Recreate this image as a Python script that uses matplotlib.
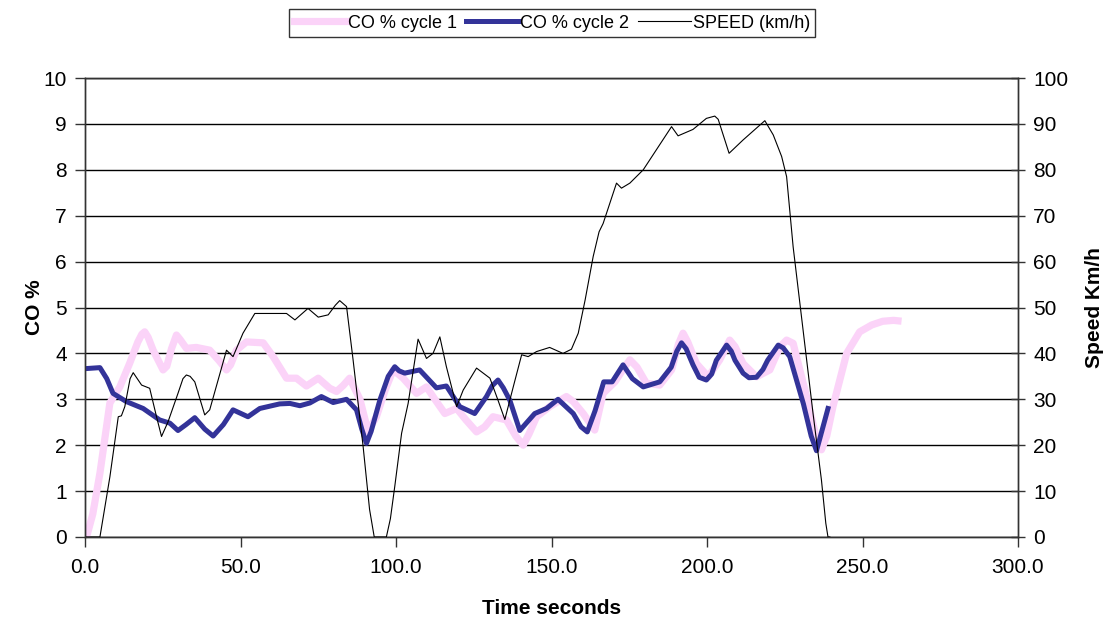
import matplotlib
matplotlib.use("Agg")
import matplotlib.pyplot as plt
from matplotlib.ticker import FormatStrFormatter

plt.rcParams['font.family'] = ['Liberation Sans', 'DejaVu Sans']

# CO % cycle 1 (time s, CO %)
t1 = [0.5, 2.5, 4.8, 8.0, 11.2, 14.4, 17.0, 18.3, 19.2, 20.3, 21.9, 25.1, 26.3, 27.8, 29.4,
      30.6, 32.6, 35.8, 40.1, 43.0, 45.5, 46.8, 48.7, 51.9, 57.3, 60.5, 64.8, 68.0, 71.2,
      75.0, 78.7, 80.9, 83.0, 85.1, 88.4, 91.0, 93.7, 96.5, 99.1, 102.3, 106.6, 109.8, 112.5,
      115.7, 119.5, 122.5, 125.9, 128.5, 131.2, 135.5, 138.5, 140.9, 142.8, 145.2, 149.4,
      154.8, 157.0, 160.2, 163.9, 166.6, 170.4, 173.0, 175.2, 177.5, 180.5, 184.8, 188.6,
      190.8, 192.3, 193.8, 196.6, 200.4, 204.1, 207.3, 209.0, 211.6, 215.9, 220.2, 223.5,
      225.6, 227.7, 232.0, 235.0, 236.8, 238.5, 240.5, 244.9, 249.1, 253.0, 256.5, 260.0,
      261.4]
co1 = [0.0, 0.5, 1.39, 2.92, 3.27, 3.79, 4.25, 4.42, 4.47, 4.35, 4.07, 3.64, 3.72, 4.1, 4.40,
       4.30, 4.11, 4.13, 4.07, 3.85, 3.64, 3.75, 4.07, 4.25, 4.23, 3.93, 3.46, 3.46, 3.29,
       3.46, 3.24, 3.17, 3.30, 3.46, 3.0, 2.3, 2.62, 3.2, 3.64, 3.46, 3.13, 3.27, 3.0,
       2.69, 2.80, 2.55, 2.29, 2.40, 2.62, 2.55, 2.2, 2.00, 2.25, 2.62, 2.84,
       3.06, 2.95, 2.69, 2.33, 3.13, 3.38, 3.65, 3.86, 3.70, 3.35, 3.31, 3.64,
       4.20, 4.44, 4.25, 3.78, 3.49, 3.86, 4.29, 4.15, 3.78, 3.49, 3.64, 4.15,
       4.29, 4.22, 3.06, 2.20, 1.90, 2.20, 2.84, 4.0, 4.47, 4.62, 4.70, 4.72,
       4.71]

# CO % cycle 2
t2 = [0.5, 4.8, 7.0, 9.0, 13.3, 18.7, 24.0, 27.3, 29.9, 32.5, 35.3, 38.5, 41.2, 44.5, 47.6,
      52.4, 56.2, 62.6, 65.9, 69.1, 72.3, 76.0, 79.8, 84.1, 87.3, 89.0, 90.5, 92.0, 94.8,
      97.5, 99.6, 101.0, 102.8, 107.6, 113.0, 116.2, 120.5, 125.3, 129.1, 131.0, 132.8,
      134.5, 136.6, 139.8, 144.6, 148.4, 152.1, 157.0, 159.5, 161.5, 164.0, 166.8, 169.5,
      173.0, 176.0, 179.5, 184.8, 188.5, 190.3, 191.8, 193.3, 195.5, 197.5, 199.8, 201.5,
      203.0, 206.3, 207.8, 209.0, 211.6, 213.5, 215.9, 218.0, 219.5, 222.9, 224.5, 226.6,
      231.0, 233.5, 235.2, 236.5, 238.9]
co2 = [3.67, 3.69, 3.45, 3.13, 2.95, 2.80, 2.55, 2.48, 2.32, 2.45, 2.60, 2.35, 2.20, 2.45, 2.77,
       2.62, 2.80, 2.90, 2.91, 2.86, 2.92, 3.06, 2.93, 3.00, 2.77, 2.35, 2.04, 2.30, 2.98,
       3.50, 3.71, 3.62, 3.57, 3.64, 3.25, 3.29, 2.84, 2.69, 3.06, 3.30, 3.42,
       3.25, 2.98, 2.32, 2.69, 2.80, 3.00, 2.69, 2.40, 2.29, 2.75, 3.38, 3.38,
       3.75, 3.45, 3.27, 3.38, 3.70, 4.05, 4.23, 4.10, 3.75, 3.48, 3.42, 3.55,
       3.85, 4.18, 4.05, 3.85, 3.57, 3.47, 3.48, 3.65, 3.85, 4.18, 4.12, 3.93,
       2.90, 2.20, 1.88, 2.20, 2.80]

# Speed (km/h)
ts = [0.5, 4.8, 8.0, 10.7, 11.7, 12.8, 14.5, 15.5, 16.8, 18.2, 20.8, 23.0, 24.6, 26.7, 29.9,
      31.5, 32.6, 33.8, 35.3, 38.5, 40.1, 45.5, 47.6, 50.8, 54.6, 64.8, 67.5, 71.7, 75.0,
      78.2, 80.5, 81.9, 84.1, 86.2, 89.4, 91.5, 93.0, 96.9, 98.2, 99.6, 101.8, 103.9, 107.1,
      109.8, 111.9, 114.1, 116.2, 119.5, 121.6, 125.9, 130.2, 132.8, 135.0, 137.7, 140.4,
      142.5, 145.2, 149.4, 153.7, 156.4, 158.6, 160.8, 163.4, 165.3, 166.6, 170.9, 172.5,
      175.2, 179.5, 188.6, 190.7, 195.5, 199.8, 202.5, 203.6, 207.1, 211.6, 218.6, 221.3,
      224.0, 225.6, 227.7, 234.1, 236.8, 238.2, 238.9, 239.5]
spd = [0.0, 0.0, 13.1, 26.2, 26.4, 28.4, 34.5, 35.8, 34.5, 33.1, 32.4, 26.2, 21.9, 25.1, 31.3,
       34.5, 35.3, 35.0, 33.8, 26.6, 27.7, 40.7, 39.3, 44.4, 48.7, 48.7, 47.3, 49.8, 47.9,
       48.4, 50.5, 51.5, 50.2, 38.6, 19.9, 6.0, 0.0, 0.0, 4.0, 11.0, 22.6, 29.1, 43.1,
       38.9, 40.0, 43.6, 37.1, 28.4, 32.0, 36.8, 34.6, 29.8, 25.6, 32.7, 39.7,
       39.3, 40.4, 41.3, 40.0, 40.9, 44.4, 51.6, 61.1, 66.5, 68.3, 77.1, 76.0,
       77.1, 80.0, 89.4, 87.4, 88.8, 91.2, 91.7, 91.0, 83.6, 86.5, 90.7, 87.6,
       82.9, 78.5, 63.2, 26.9, 12.4, 3.0, 0.0, 0.0]

x_ticks = [0, 50, 100, 150, 200, 250, 300]
co_ticks = list(range(0, 11))
speed_ticks = list(range(0, 101, 10))

fig = plt.figure(figsize=(11.06, 6.18), dpi=100)
ax = fig.add_axes([85 / 1106, 81 / 618, 933 / 1106, 459 / 618])
ax2 = ax.twinx()

ax.set_xlim(0, 300)
ax.set_ylim(0, 10)
ax2.set_ylim(0, 100)
ax.set_xticks(x_ticks)
ax.xaxis.set_major_formatter(FormatStrFormatter('%.1f'))
ax.set_yticks(co_ticks)
ax2.set_yticks(speed_ticks)

for y in co_ticks:
    ax.axhline(y, color='black', lw=1.0, zorder=0.5)

l1, = ax.plot(t1, co1, color='#FBD3F8', lw=5.2, solid_joinstyle='round',
              label='CO % cycle 1', zorder=2)
l2, = ax.plot(t2, co2, color='#333399', lw=3.6, solid_joinstyle='round',
              label='CO % cycle 2', zorder=3)
l3, = ax2.plot(ts, spd, color='black', lw=0.8, label='SPEED (km/h)', zorder=4)

for a in (ax, ax2):
    for s in a.spines.values():
        s.set_color('#333333')
        s.set_linewidth(1.0)
    a.tick_params(length=7, width=1, color='#333333', labelsize=15, pad=6)
ax.tick_params(axis='y', direction='out')
ax2.tick_params(axis='y', direction='inout', length=10)
ax.tick_params(axis='x', direction='out', pad=8)

ax.set_xlabel('Time seconds', fontsize=15, fontweight='bold', labelpad=16)
ax.set_ylabel('CO %', fontsize=15, fontweight='bold', labelpad=0)
ax2.set_ylabel('Speed Km/h', fontsize=15, fontweight='bold', labelpad=12)

leg = fig.legend(handles=[l1, l2, l3], loc='center', bbox_to_anchor=(552 / 1106, 1 - 23 / 618),
                 ncol=3, frameon=True, fancybox=False, fontsize=13, handlelength=2.9,
                 handletextpad=0.1, columnspacing=0.5, borderpad=0.3, borderaxespad=0)
leg.get_frame().set_edgecolor('black')
leg.get_frame().set_linewidth(1.0)

fig.savefig('out.png', dpi=100)
